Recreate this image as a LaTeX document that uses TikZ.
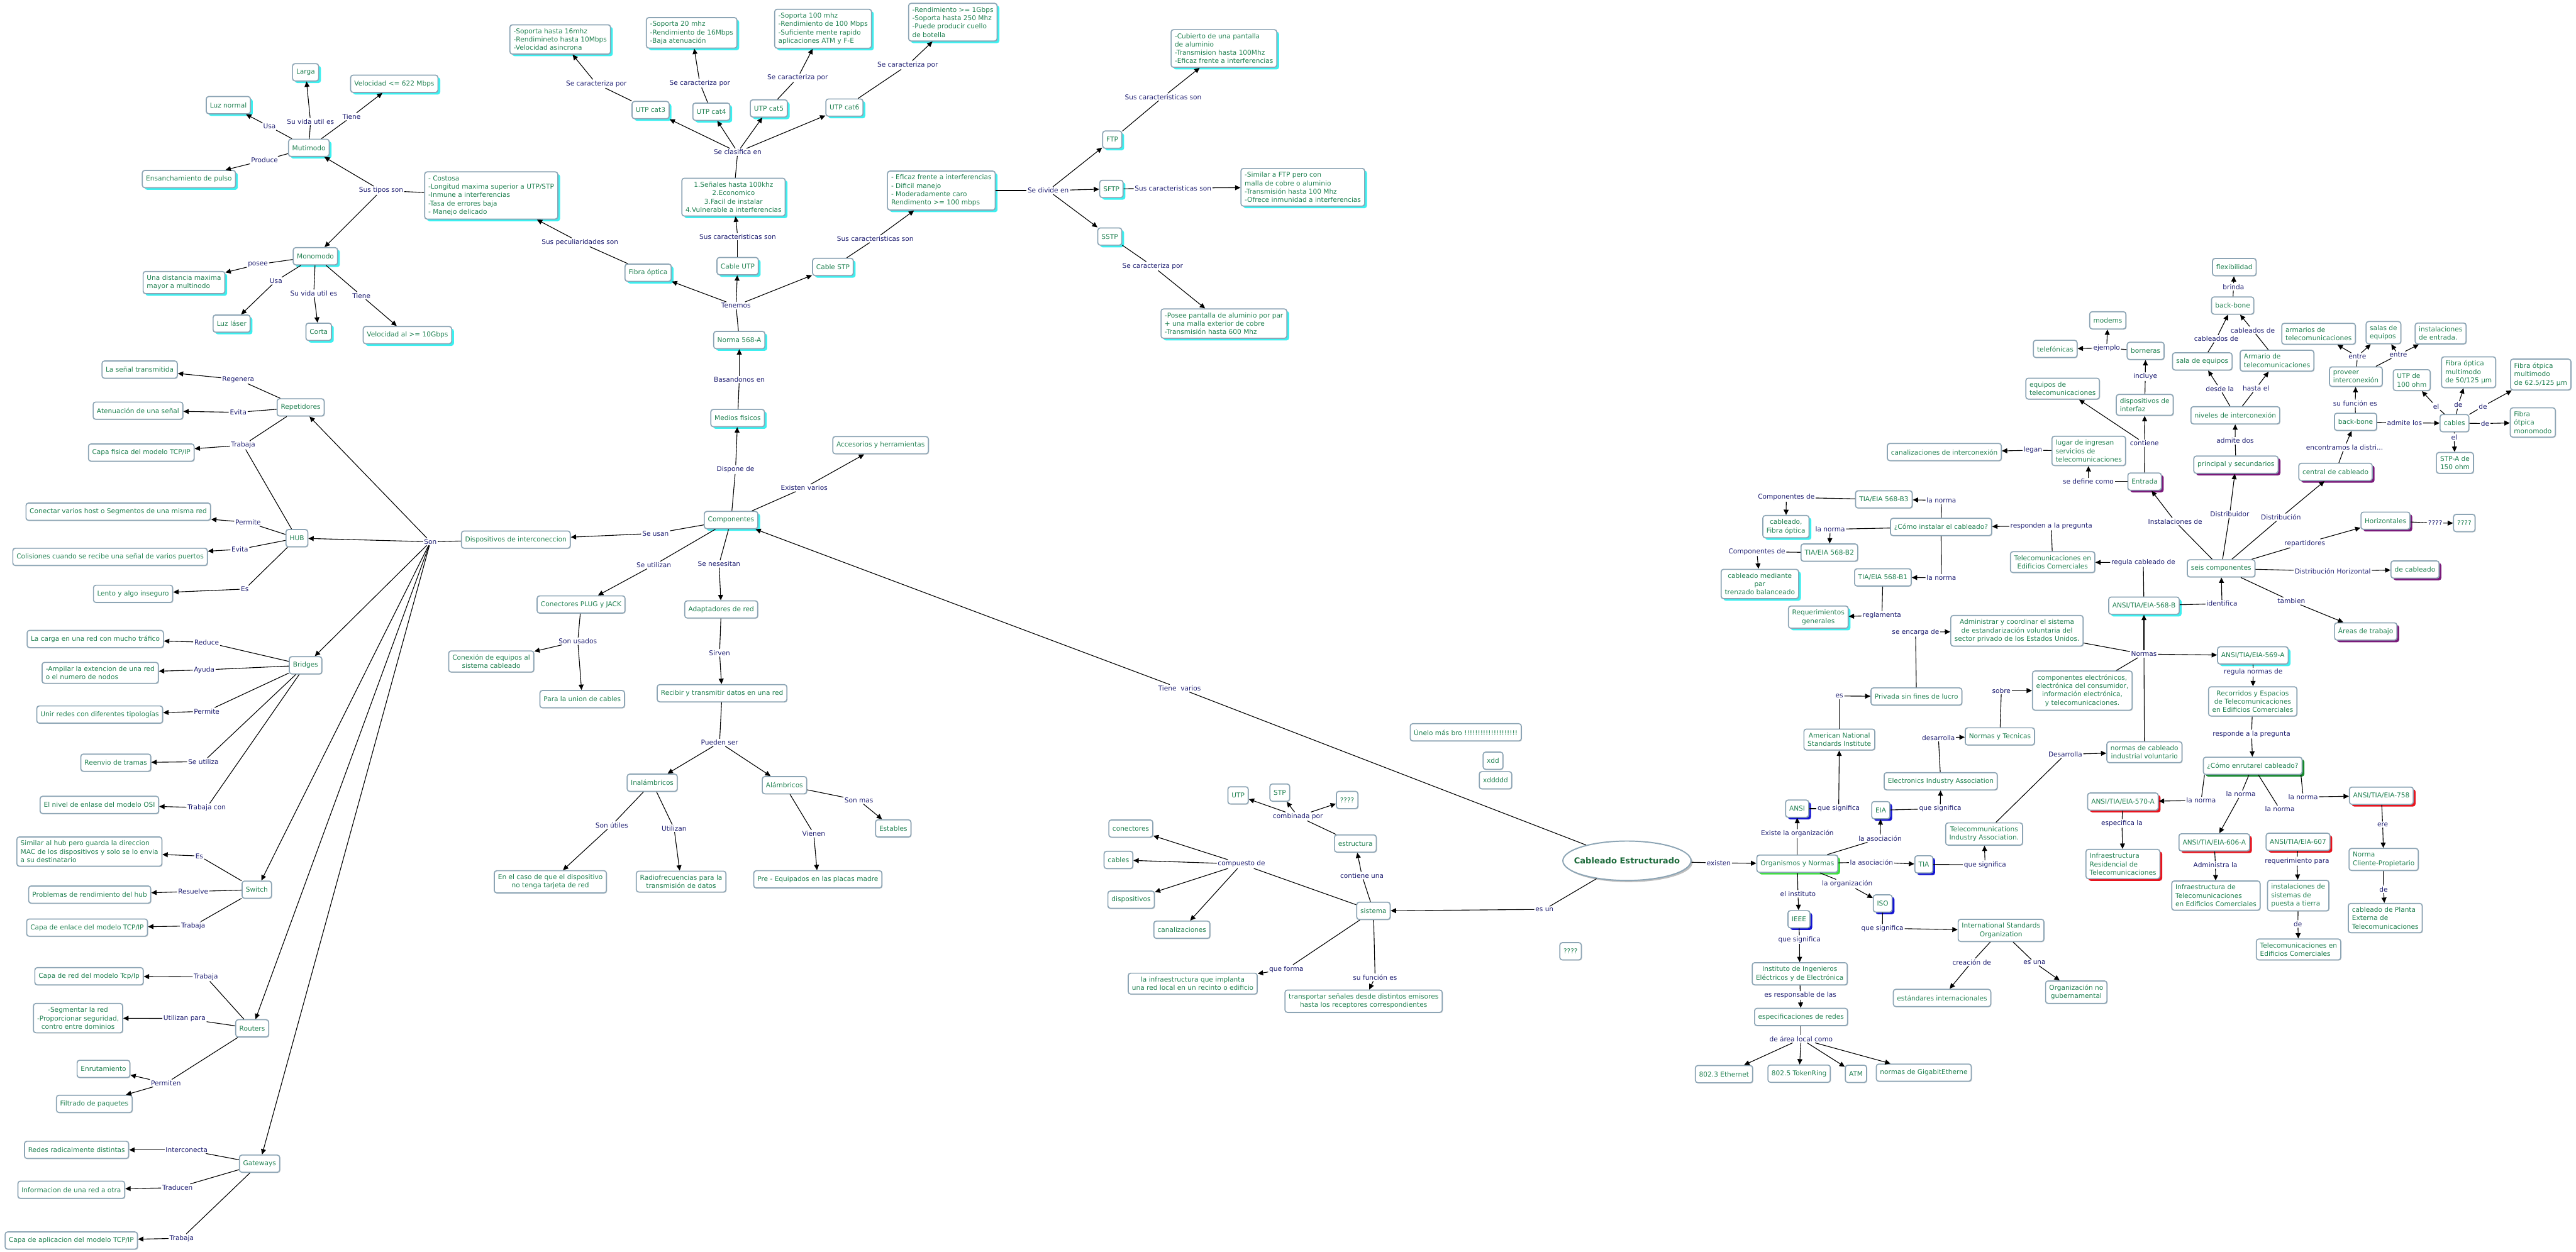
\documentclass[tikz,border=0pt]{standalone}
\usepackage{fontspec}
\setmainfont{DejaVu Sans}
\usepackage{xcolor}
\usetikzlibrary{arrows.meta,shapes.geometric,shadows}
\definecolor{CMText}{HTML}{1F8050}
\definecolor{CMNavy}{HTML}{1C1C70}
\definecolor{CMFrame}{HTML}{8DA5B5}
\definecolor{CMCyan}{HTML}{3CF0F0}
\definecolor{CMPurple}{HTML}{7A1A7A}
\definecolor{CMRed}{HTML}{E8141E}
\definecolor{CMBlue}{HTML}{1414D2}
\definecolor{CMLime}{HTML}{40E040}
\definecolor{CMForest}{HTML}{158A2D}
\definecolor{CMTitle}{HTML}{1E6B3C}

\begin{document}
\begin{tikzpicture}[x=2pt,y=-2pt,
  concept/.style={draw=CMFrame,line width=1.3pt,rounded corners=3pt,fill=white,text=CMText,
    font=\fontsize{8.1}{10.2}\selectfont,inner xsep=4.5pt,inner ysep=4.5pt,minimum height=21pt,align=center,
    general shadow={fill=black!15,shadow xshift=0.9pt,shadow yshift=-0.9pt}},
  conceptL/.style={concept,align=left},
  glowcyan/.style={general shadow={fill=CMCyan,shadow xshift=2.8pt,shadow yshift=-2.6pt}},
  glowpurple/.style={general shadow={fill=CMPurple,shadow xshift=2.8pt,shadow yshift=-2.6pt}},
  glowred/.style={general shadow={fill=CMRed,shadow xshift=2.8pt,shadow yshift=-2.6pt}},
  glowblue/.style={general shadow={fill=CMBlue,shadow xshift=2.8pt,shadow yshift=-2.6pt}},
  glowlime/.style={general shadow={fill=CMLime,shadow xshift=2.8pt,shadow yshift=-2.6pt}},
  glowforest/.style={general shadow={fill=CMForest,shadow xshift=2.8pt,shadow yshift=-2.6pt}},
  mainidea/.style={ellipse,draw=CMFrame,line width=1.5pt,fill=white,text=CMTitle,inner sep=0pt,
    minimum width=156pt,minimum height=48pt,font=\fontsize{10}{12}\selectfont\bfseries,
    general shadow={fill=black!25,shadow xshift=2pt,shadow yshift=-2pt}},
  linkword/.style={text=CMNavy,font=\fontsize{8.1}{10.2}\selectfont,inner sep=1.2pt},
  cmline/.style={line width=0.85pt},
  cmarrow/.style={cmline,-{Triangle[length=6.5pt,width=6pt]}}]
\useasboundingbox (0,0) rectangle (1568,762);

\node[conceptL,glowcyan] (c16) at (341,24) {-Soporta hasta 16mhz\\-Rendimineto hasta 10Mbps\\-Velocidad asincrona};
\node[conceptL,glowcyan] (c20) at (421,20) {-Soporta 20 mhz\\-Rendimiento de 16Mbps\\-Baja atenuación};
\node[conceptL,glowcyan] (c100) at (501,17.5) {-Soporta 100 mhz\\-Rendimiento de 100 Mbps\\-Suficiente mente rapido\\aplicaciones ATM y F-E};
\node[conceptL,glowcyan] (c1g) at (580,13.5) {-Rendimiento >= 1Gbps\\-Soporta hasta 250 Mhz\\-Puede producir cuello\\de botella};
\node[conceptL,glowcyan] (cubierto) at (745,29.5) {-Cubierto de una pantalla\\de aluminio\\-Transmision hasta 100Mhz\\-Eficaz frente a interferencias};
\node[concept,glowcyan] (cat3) at (396,67) {UTP cat3};
\node[concept,glowcyan] (cat4) at (433,68) {UTP cat4};
\node[concept,glowcyan] (cat5) at (468,66) {UTP cat5};
\node[concept,glowcyan] (cat6) at (514,65.5) {UTP cat6};
\node[linkword] (lCar3) at (363,51) {Se caracteriza por};
\node[linkword] (lCar4) at (426,50.7) {Se caracteriza por};
\node[linkword] (lCar5) at (485.5,47.4) {Se caracteriza por};
\node[linkword] (lCar6) at (552.5,39.6) {Se caracteriza por};
\node[linkword] (lClasifica) at (449,92.6) {Se clasifica en};
\node[concept,glowcyan] (utpchar) at (446.5,120) {1.Señales hasta 100khz\\2.Economico\\3.Facil de instalar\\4.Vulnerable a interferencias};
\node[conceptL,glowcyan] (stpchar) at (573,116) {- Eficaz frente a interferencias\\- Dificil manejo\\- Moderadamente caro\\Rendimento >= 100 mbps};
\node[linkword] (lDivide) at (638,116) {Se divide en};
\node[concept,glowcyan] (ftp) at (677,85) {FTP};
\node[concept,glowcyan] (sftp) at (676.5,115) {SFTP};
\node[concept,glowcyan] (sstp) at (675.5,144) {SSTP};
\node[linkword] (lFtp) at (708,59) {Sus caracteristicas son};
\node[linkword] (lSftp) at (714,114.5) {Sus caracteristicas son};
\node[linkword] (lSstp) at (701.6,162) {Se caracteriza por};
\node[conceptL,glowcyan] (similar) at (793,114) {-Similar a FTP pero con\\malla de cobre o aluminio\\-Transmisión hasta 100 Mhz\\-Ofrece inmunidad a interferencias};
\node[conceptL,glowcyan] (posee) at (745,197) {-Posee pantalla de aluminio por par\\+ una malla exterior de cobre\\-Transmisión hasta 600 Mhz};
\node[concept,glowcyan] (cableutp) at (449,162) {Cable UTP};
\node[concept,glowcyan] (cablestp) at (507,162.5) {Cable STP};
\node[concept,glowcyan] (fibra) at (394.5,166) {Fibra óptica};
\node[linkword] (lUtp) at (449,144) {Sus caracteristicas son};
\node[linkword] (lStp) at (532.8,145.4) {Sus caracteristicas son};
\node[linkword] (lTenemos) at (448,186) {Tenemos};
\node[concept,glowcyan] (norma) at (450,207) {Norma 568-A};
\node[linkword] (lBasandonos) at (450,231) {Basandonos en};
\node[concept,glowcyan] (medios) at (449,254.5) {Medios fisicos};
\node[linkword] (lPeculiar) at (353,147.5) {Sus peculiaridades son};
\node[conceptL,glowcyan] (costosa) at (299,119) {- Costosa\\-Longitud maxima superior a UTP/STP\\-Inmune a interferencias\\-Tasa de errores baja\\- Manejo delicado};
\node[linkword] (lTipos) at (232,116) {Sus tipos son};
\node[concept,glowcyan] (multi) at (188,90) {Mutimodo};
\node[concept,glowcyan] (mono) at (192,156) {Monomodo};
\node[concept,glowcyan] (larga) at (186,44) {Larga};
\node[concept,glowcyan] (vel622) at (240,51) {Velocidad <= 622 Mbps};
\node[concept,glowcyan] (luznormal) at (139,64) {Luz normal};
\node[concept,glowcyan] (ensanch) at (115,109) {Ensanchamiento de pulso};
\node[linkword] (lUsa1) at (164,77) {Usa};
\node[linkword] (lVida1) at (189,74) {Su vida util es};
\node[linkword] (lTiene1) at (214,71) {Tiene};
\node[linkword] (lProduce) at (161,97.5) {Produce};
\node[conceptL,glowcyan] (distancia) at (112,172) {Una distancia maxima\\mayor a multinodo};
\node[concept,glowcyan] (laser) at (141,197) {Luz láser};
\node[concept,glowcyan] (corta) at (194,202) {Corta};
\node[concept,glowcyan] (vel10) at (248,204) {Velocidad al >= 10Gbps};
\node[linkword] (lPosee) at (157,161) {posee};
\node[linkword] (lUsa2) at (168,171) {Usa};
\node[linkword] (lVida2) at (191,178.5) {Su vida util es};
\node[linkword] (lTiene2) at (220,180) {Tiene};

\node[concept,glowcyan] (componentes) at (445,316.6) {Componentes};
\node[concept] (accesorios) at (536,271) {Accesorios y herramientas};
\node[linkword] (lDispone) at (447.7,285.9) {Dispone de};
\node[linkword] (lExisten) at (489.5,297) {Existen varios};
\node[linkword] (lSeUsan) at (399,324.7) {Se usan};
\node[linkword] (lUtilizan) at (398,344) {Se utilizan};
\node[linkword] (lNesesitan) at (437.7,343.3) {Se nesesitan};
\node[concept] (dispint) at (314,328.5) {Dispositivos de interconeccion};
\node[concept] (plug) at (353.7,368) {Conectores PLUG y JACK};
\node[linkword] (lUsados) at (351.7,390.3) {Son usados};
\node[concept] (conexion) at (299,402.7) {Conexión de equipos al\\sistema cableado};
\node[concept] (union) at (354.4,425.6) {Para la union de cables};
\node[concept] (adapt) at (439,371) {Adaptadores de red};
\node[linkword] (lSirven) at (438,397.4) {Sirven};
\node[concept] (recibir) at (439.5,422) {Recibir y transmitir datos en una red};
\node[linkword] (lPueden) at (438,452) {Pueden ser};
\node[concept] (inal) at (397,476.5) {Inalámbricos};
\node[concept] (alam) at (477.5,478) {Alámbricos};
\node[linkword] (lUtiles) at (372.4,502.3) {Son útiles};
\node[linkword] (lUtilizan2) at (410.3,504.3) {Utilizan};
\node[linkword] (lVienen) at (495.3,507.5) {Vienen};
\node[linkword] (lSonMas) at (522.8,487.2) {Son mas};
\node[concept] (caso) at (335,536.8) {En el caso de que el dispositivo\\no tenga tarjeta de red};
\node[concept] (radio) at (414.6,536.7) {Radiofrecuencias para la\\transmisión de datos};
\node[concept] (preeq) at (497.8,535.3) {Pre - Equipados en las placas madre};
\node[concept] (estables) at (543.7,504.3) {Estables};
\node[linkword] (lTieneVarios) at (718,419) {Tiene\ \ varios};

\node[linkword] (lSon) at (262,329.8) {Son};
\node[concept] (rep) at (183,248) {Repetidores};
\node[concept] (senal) at (85,225) {La señal transmitida};
\node[concept] (atenua) at (84,250) {Atenuación de una señal};
\node[concept] (capafis) at (86,275.5) {Capa fisica del modelo TCP/IP};
\node[linkword] (lRegenera) at (145,231) {Regenera};
\node[linkword] (lEvita1) at (145,251) {Evita};
\node[linkword] (lTrab1) at (148,271) {Trabaja};
\node[concept] (hub) at (180.7,327.6) {HUB};
\node[concept] (conectar) at (72,311.5) {Conectar varios host o Segmentos de una misma red};
\node[concept] (colis) at (67,339) {Colisiones cuando se recibe una señal de varios puertos};
\node[concept] (lento) at (81,361.5) {Lento y algo inseguro};
\node[linkword] (lPermite1) at (151,318) {Permite};
\node[linkword] (lEvita2) at (146,334.4) {Evita};
\node[linkword] (lEs1) at (149,358.6) {Es};
\node[concept] (bridges) at (186,405) {Bridges};
\node[concept] (carga) at (58,389) {La carga en una red con mucho tráfico};
\node[conceptL] (ampliar) at (61,409.6) {-Ampilar la extencion de una red\\o el numero de nodos};
\node[concept] (unir) at (60.7,435) {Unir redes con diferentes tipologías};
\node[concept] (reenvio) at (70.5,464.3) {Reenvio de tramas};
\node[concept] (osi) at (60.5,490) {El nivel de enlase del modelo OSI};
\node[linkword] (lReduce) at (125.8,391) {Reduce};
\node[linkword] (lAyuda) at (124.3,407.8) {Ayuda};
\node[linkword] (lPermite2) at (125.8,433) {Permite};
\node[linkword] (lSeUtiliza) at (123.8,463.7) {Se utiliza};
\node[linkword] (lTrabCon) at (125.8,491.7) {Trabaja con};
\node[concept] (switch) at (156.3,541.6) {Switch};
\node[conceptL] (similarhub) at (54.4,518.4) {Similar al hub pero guarda la direccion\\MAC de los dispositivos y solo se lo envia\\a su destinatario};
\node[concept] (problemas) at (54.6,544.6) {Problemas de rendimiento del hub};
\node[concept] (enlace) at (53,564.7) {Capa de enlace del modelo TCP/IP};
\node[linkword] (lEs2) at (121.3,521.1) {Es};
\node[linkword] (lResuelve) at (117.6,542.7) {Resuelve};
\node[linkword] (lTrab2) at (117.6,563.7) {Trabaja};
\node[concept] (routers) at (153.5,626) {Routers};
\node[concept] (capared) at (54.2,594.3) {Capa de red del modelo Tcp/Ip};
\node[concept] (segmentar) at (47.5,619.8) {-Segmentar la red\\-Proporcionar seguridad,\\contro entre dominios};
\node[concept] (enrut) at (63,650.7) {Enrutamiento};
\node[concept] (filtrado) at (57.4,672) {Filtrado de paquetes};
\node[linkword] (lTrab3) at (125.3,594.7) {Trabaja};
\node[linkword] (lUtilizanPara) at (112.3,620) {Utilizan para};
\node[linkword] (lPermiten) at (101,659.4) {Permiten};
\node[concept] (gateways) at (158,708.4) {Gateways};
\node[concept] (redes) at (46.6,700) {Redes radicalmente distintas};
\node[concept] (info) at (43.4,724.3) {Informacion de una red a otra};
\node[concept] (capaapp) at (43.4,755.2) {Capa de aplicacion del modelo TCP/IP};
\node[linkword] (lInterconecta) at (113.6,700) {Interconecta};
\node[linkword] (lTraducen) at (108,723) {Traducen};
\node[linkword] (lTrab4) at (110.6,753.8) {Trabaja};

\node[mainidea] (cableado) at (990.3,524) {\makebox[0pt]{Cableado Estructurado}};
\node[linkword] (lEsUn) at (940.1,553.6) {es un};
\node[concept] (sistema) at (836,554.5) {sistema};
\node[linkword] (lCompuesto) at (755.7,526) {compuesto de};
\node[concept] (conectores) at (688.3,504.4) {conectores};
\node[concept] (cables) at (680.8,523.5) {cables};
\node[concept] (dispositivos) at (688.5,547.7) {dispositivos};
\node[concept] (canaliz) at (719.4,566) {canalizaciones};
\node[linkword] (lForma) at (783,590) {que forma};
\node[concept] (infra) at (726,598.8) {la infraestructura que implanta\\una red local en un recinto o edificio};
\node[linkword] (lFuncion) at (837,595) {su función es};
\node[concept] (transportar) at (830,609.5) {transportar señales desde distintos emisores\\hasta los receptores correspondientes};
\node[linkword] (lContiene) at (829,533) {contiene una};
\node[concept] (estructura) at (825,513.5) {estructura};
\node[linkword] (lCombinada) at (790,497) {combinada por};
\node[concept] (utp) at (753.6,484.2) {UTP};
\node[concept] (stp) at (779,482.5) {STP};
\node[concept] (qqA) at (820,487) {????};
\node[concept] (qqB) at (956,579.1) {????};
\node[concept] (unelo) at (892.2,445.8) {Únelo más bro !!!!!!!!!!!!!!!!!!!!};
\node[concept] (xdd) at (908.8,463.1) {xdd};
\node[concept] (xddddd) at (910.3,475) {xddddd};

\node[concept,glowlime] (org) at (1094,525.8) {Organismos y Normas};
\node[linkword] (lExisten2) at (1046.2,525.3) {existen};
\node[linkword] (lAsoc1) at (1139.2,524.8) {la asociación};
\node[concept,glowblue] (tia) at (1171,526.2) {TIA};
\node[linkword] (lSig1) at (1208.3,526.4) {que significa};
\node[concept] (tiaFull) at (1207.7,507.7) {Telecommunications\\Industry Association.};
\node[linkword] (lDes2) at (1257.1,459.2) {Desarrolla};
\node[concept] (normasvol) at (1305.3,457.9) {normas de cableado\\industrial voluntario};
\node[linkword] (lOrg2) at (1124.4,538.1) {la organización};
\node[concept,glowblue] (iso) at (1146,550) {ISO};
\node[linkword] (lSig2) at (1145.8,565.1) {que significa};
\node[concept] (isoFull) at (1218,566.4) {International Standards\\Organization};
\node[linkword] (lCreacion) at (1200.2,585.7) {creación de};
\node[concept] (estandares) at (1182.1,607.5) {estándares internacionales};
\node[linkword] (lEsUna) at (1238.4,586) {es una};
\node[concept] (ong) at (1263.8,604) {Organización no\\gubernamental};
\node[linkword] (lInst) at (1094.4,544.1) {el instituto};
\node[concept,glowblue] (ieee) at (1095,559.6) {IEEE};
\node[linkword] (lSig3) at (1095.3,572) {que significa};
\node[concept] (ieeeFull) at (1095.5,592.8) {Instituto de Ingenieros\\Eléctricos y de Electrónica};
\node[linkword] (lResp) at (1095.8,606) {es responsable de las};
\node[concept] (espec) at (1096.3,619.1) {especificaciones de redes};
\node[linkword] (lArea) at (1096.3,632.5) {de área local como};
\node[concept] (eth) at (1049.4,653.9) {802.3 Ethernet};
\node[concept] (token) at (1095.1,653.6) {802.5 TokenRing};
\node[concept] (atm) at (1129.7,653.7) {ATM};
\node[concept] (giga) at (1171,653) {normas de GigabitEtherne};
\node[linkword] (lExiste) at (1094,507.5) {Existe la organización};
\node[concept,glowblue] (ansi) at (1093.9,492.3) {ANSI};
\node[linkword] (lSig4) at (1119.2,492.3) {que significa};
\node[concept] (ansiFull) at (1119.6,450.2) {American National\\Standards Institute};
\node[linkword] (lEs3) at (1119.6,423.7) {es};
\node[concept] (privada) at (1166.5,424) {Privada sin fines de lucro};
\node[linkword] (lEncarga) at (1166,384.9) {se encarga de};
\node[concept] (admin) at (1227.7,384) {Administrar y coordinar el sistema\\de estandarización voluntaria del\\sector privado de los Estados Unidos.};
\node[linkword] (lNormas) at (1305,398.2) {Normas};
\node[concept,glowcyan] (n569) at (1371.3,399) {ANSI/TIA/EIA-569-A};
\node[concept,glowcyan] (n568) at (1305,368.7) {ANSI/TIA/EIA-568-B};
\node[linkword] (lAsoc2) at (1144.4,510.4) {la asociación};
\node[concept,glowblue] (eia) at (1144.8,493.2) {EIA};
\node[linkword] (lSig5) at (1181,492.3) {que significa};
\node[concept] (eiaFull) at (1181.3,475.6) {Electronics Industry Association};
\node[linkword] (lDes1) at (1179.9,449.1) {desarrolla};
\node[concept] (tecnicas) at (1217.3,448.3) {Normas y Tecnicas};
\node[linkword] (lSobre) at (1218.2,420.4) {sobre};
\node[concept] (compelec) at (1267.5,420.4) {componentes electrónicos,\\electrónica del consumidor,\\información electrónica,\\y telecomunicaciones.};

\node[linkword] (lIdentifica) at (1352.5,367.5) {identifica};
\node[concept] (seis) at (1352,346) {seis componentes};
\node[linkword] (lRegula) at (1304.6,342.5) {regula cableado de};
\node[concept] (telecomA) at (1249.4,342.2) {Telecomunicaciones en\\Edificios Comerciales};
\node[linkword] (lResponden) at (1248.6,320.2) {responden a la pregunta};
\node[concept] (instalar) at (1181.5,320.8) {¿Cómo instalar el cableado?};
\node[linkword] (lNorma3) at (1181.7,304.6) {la norma};
\node[concept] (b3) at (1146.7,304) {TIA/EIA 568-B3};
\node[linkword] (lNorma2) at (1114,322.2) {la norma};
\node[concept] (b2) at (1113.5,336.4) {TIA/EIA 568-B2};
\node[linkword] (lNorma1) at (1181.7,351.7) {la norma};
\node[concept] (b1) at (1146.1,351.5) {TIA/EIA 568-B1};
\node[linkword] (lComp3) at (1087.3,302.8) {Componentes de};
\node[concept,glowcyan] (fibraopt) at (1087.1,320.6) {cableado,\\Fibra óptica};
\node[linkword] (lComp2) at (1069.4,335.9) {Componentes de};
\node[concept,glowcyan] (partrenz) at (1071.2,355.5) {cableado mediante\\par\\trenzado balanceado};
\node[linkword] (lReglamenta) at (1145.5,374.7) {reglamenta};
\node[concept,glowcyan] (reqgen) at (1106.8,375.7) {Requerimientos\\generales};

\node[linkword] (lInstal) at (1324,317.5) {Instalaciones de};
\node[concept,glowpurple] (entrada) at (1305.4,293.2) {Entrada};
\node[linkword] (lDistribuidor) at (1357.2,313) {Distribuidor};
\node[concept,glowpurple] (principal) at (1361,282.9) {principal y secundarios};
\node[linkword] (lDistribucion) at (1388.4,314.9) {Distribución};
\node[concept,glowpurple] (central) at (1421.6,287.3) {central de cableado};
\node[linkword] (lRepart) at (1402.9,330.8) {repartidores};
\node[concept,glowpurple] (horiz) at (1452,317) {Horizontales};
\node[linkword] (lHor) at (1482.3,318.5) {????};
\node[concept] (qqC) at (1500,318.4) {????};
\node[linkword] (lDistHor) at (1419.9,347.8) {Distribución Horizontal};
\node[concept,glowpurple] (decab) at (1470,346.7) {de cableado};
\node[linkword] (lTambien) at (1394.7,365.9) {tambien};
\node[concept,glowpurple] (areas) at (1440,384.4) {Áreas de trabajo};
\node[linkword] (lDefine) at (1271.1,293.2) {se define como};
\node[conceptL] (lugar) at (1271.4,274.5) {lugar de ingresan\\servicios de\\telecomunicaciones};
\node[linkword] (lLegan) at (1237.4,274.1) {legan};
\node[concept] (canint) at (1183.5,275.2) {canalizaciones de interconexión};
\node[linkword] (lContiene2) at (1305.3,269.8) {contiene};
\node[conceptL] (interfaz) at (1305.5,246.5) {dispositivos de\\interfaz};
\node[conceptL] (equipos) at (1255.5,236.6) {equipos de\\telecomunicaciones};
\node[linkword] (lIncluye) at (1305.8,229.3) {incluye};
\node[concept] (borneras) at (1306,213.6) {borneras};
\node[linkword] (lEjemplo) at (1282.3,211.9) {ejemplo};
\node[concept] (telef) at (1251,212.4) {telefónicas};
\node[concept] (modems) at (1283,195) {modems};
\node[linkword] (lAdmite) at (1360.5,268.3) {admite dos};
\node[concept] (niveles) at (1360.6,252.8) {niveles de interconexión};
\node[linkword] (lDesde) at (1351.2,236.7) {desde la};
\node[concept] (salaeq) at (1340.5,220) {sala de equipos};
\node[linkword] (lHasta) at (1373.2,236.4) {hasta el};
\node[conceptL] (armario) at (1386,219.6) {Armario de\\telecomunicaciones};
\node[linkword] (lCabl1) at (1349,206.2) {cableados de};
\node[linkword] (lCabl2) at (1371.2,201) {cableados de};
\node[concept] (bbA) at (1359,186) {back-bone};
\node[linkword] (lBrinda) at (1359.5,174.6) {brinda};
\node[concept] (flex) at (1360,162.6) {flexibilidad};
\node[linkword] (lEncontramos) at (1427.1,272.3) {encontramos la distri...};
\node[concept] (bbB) at (1433.8,256.8) {back-bone};
\node[linkword] (lFuncion2) at (1433.6,245.6) {su función es};
\node[conceptL] (proveer) at (1434,229.3) {proveer\\interconexión};
\node[linkword] (lEntre1) at (1434.9,217) {entre};
\node[linkword] (lEntre2) at (1459.8,216) {entre};
\node[conceptL] (armarios) at (1411.3,203.2) {armarios de\\telecomunicaciones};
\node[conceptL] (salas) at (1450.8,202.5) {salas de\\equipos};
\node[conceptL] (instent) at (1485.6,203) {instalaciones\\de entrada.};
\node[linkword] (lAdmiteLos) at (1463.6,257.5) {admite los};
\node[concept] (cablesR) at (1494,257.6) {cables};
\node[linkword] (lEl1) at (1482.8,247.4) {el};
\node[linkword] (lDe1) at (1496.3,246.5) {de};
\node[linkword] (lDe2) at (1511.3,247.4) {de};
\node[linkword] (lDe3) at (1512.7,257.8) {de};
\node[linkword] (lEl2) at (1493.8,266.2) {el};
\node[conceptL] (utp100) at (1468,231.4) {UTP de\\100 ohm};
\node[conceptL] (f50) at (1502.6,226.6) {Fibra óptica\\multimodo\\de 50/125 µm};
\node[conceptL] (f62) at (1546.5,228) {Fibra ótpica\\multimodo\\de 62.5/125 µm};
\node[conceptL] (fmono) at (1541.7,257.2) {Fibra\\ótpica\\monomodo};
\node[concept] (stpa) at (1494.3,281.8) {STP-A de\\150 ohm};

\node[linkword] (lRegulaN) at (1371.5,409.2) {regula normas de};
\node[concept] (recorridos) at (1371.2,427) {Recorridos y Espacios\\de Telecomunicaciones\\en Edificios Comerciales};
\node[linkword] (lRespondeP) at (1370.5,446.9) {responde a la pregunta};
\node[concept,glowforest] (enrutar) at (1371.2,466.2) {¿Cómo enrutarel cableado?};
\node[linkword] (lN570) at (1339.8,487.3) {la norma};
\node[linkword] (lN606) at (1364,483.5) {la norma};
\node[linkword] (lN607) at (1387.7,492.6) {la norma};
\node[linkword] (lN758) at (1401.9,485.2) {la norma};
\node[concept,glowred] (n570) at (1292.2,488) {ANSI/TIA/EIA-570-A};
\node[concept,glowred] (n606) at (1347.8,512.8) {ANSI/TIA/EIA-606-A};
\node[concept,glowred] (n607) at (1398.8,512.5) {ANSI/TIA/EIA-607};
\node[concept,glowred] (n758) at (1449.5,484.4) {ANSI/TIA/EIA-758};
\node[linkword] (lEspecifica) at (1291.6,501.3) {especifica la};
\node[conceptL,glowred] (resid) at (1292.2,526) {Infraestructura\\Residencial de\\Telecomunicaciones};
\node[linkword] (lAdministra) at (1348.5,526.6) {Administra la};
\node[conceptL] (infracom) at (1348.8,545.2) {Infraestructura de\\Telecomunicaciones\\en Edificios Comerciales};
\node[linkword] (lReq) at (1398.2,524.3) {requerimiento para};
\node[conceptL] (tierra) at (1398.9,545.2) {instalaciones de\\sistemas de\\puesta a tierra};
\node[linkword] (lDeT) at (1398.7,562.5) {de};
\node[conceptL] (telecomB) at (1399.1,578) {Telecomunicaciones en\\Edificios Comerciales};
\node[linkword] (lEre) at (1450.3,502) {ere};
\node[conceptL] (cliente) at (1450.9,523.2) {Norma\\Cliente-Propietario};
\node[linkword] (lDeC) at (1450.8,541.4) {de};
\node[conceptL] (planta) at (1451.9,558.9) {cableado de Planta\\Externa de\\Telecomunicaciones};

\draw[cmline] (cat3) -- (lCar3); \draw[cmarrow] (lCar3) -- (c16);
\draw[cmline] (cat4) -- (lCar4); \draw[cmarrow] (lCar4) -- (c20);
\draw[cmline] (cat5) -- (lCar5); \draw[cmarrow] (lCar5) -- (c100);
\draw[cmline] (cat6) -- (lCar6); \draw[cmarrow] (lCar6) -- (c1g);
\draw[cmline] (utpchar) -- (lClasifica);
\draw[cmarrow] (lClasifica) -- (cat3); \draw[cmarrow] (lClasifica) -- (cat4);
\draw[cmarrow] (lClasifica) -- (cat5); \draw[cmarrow] (lClasifica) -- (cat6);
\draw[cmline] (stpchar) -- (lDivide);
\draw[cmarrow] (lDivide) -- (ftp); \draw[cmarrow] (lDivide) -- (sftp); \draw[cmarrow] (lDivide) -- (sstp);
\draw[cmline] (ftp) -- (lFtp); \draw[cmarrow] (lFtp) -- (cubierto);
\draw[cmline] (sftp) -- (lSftp); \draw[cmarrow] (lSftp) -- (similar);
\draw[cmline] (sstp) -- (lSstp); \draw[cmarrow] (lSstp) -- (posee);
\draw[cmline] (cableutp) -- (lUtp); \draw[cmarrow] (lUtp) -- (utpchar);
\draw[cmline] (cablestp) -- (lStp); \draw[cmarrow] (lStp) -- (stpchar);
\draw[cmline] (norma) -- (lTenemos);
\draw[cmarrow] (lTenemos) -- (fibra); \draw[cmarrow] (lTenemos) -- (cableutp); \draw[cmarrow] (lTenemos) -- (cablestp);
\draw[cmline] (medios) -- (lBasandonos); \draw[cmarrow] (lBasandonos) -- (norma);
\draw[cmline] (fibra) -- (lPeculiar); \draw[cmarrow] (lPeculiar) -- (costosa);
\draw[cmline] (costosa) -- (lTipos);
\draw[cmarrow] (lTipos) -- (multi); \draw[cmarrow] (lTipos) -- (mono);
\draw[cmline] (multi) -- (lUsa1); \draw[cmarrow] (lUsa1) -- (luznormal);
\draw[cmline] (multi) -- (lVida1); \draw[cmarrow] (lVida1) -- (larga);
\draw[cmline] (multi) -- (lTiene1); \draw[cmarrow] (lTiene1) -- (vel622);
\draw[cmline] (multi) -- (lProduce); \draw[cmarrow] (lProduce) -- (ensanch);
\draw[cmline] (mono) -- (lPosee); \draw[cmarrow] (lPosee) -- (distancia);
\draw[cmline] (mono) -- (lUsa2); \draw[cmarrow] (lUsa2) -- (laser);
\draw[cmline] (mono) -- (lVida2); \draw[cmarrow] (lVida2) -- (corta);
\draw[cmline] (mono) -- (lTiene2); \draw[cmarrow] (lTiene2) -- (vel10);

\draw[cmline] (componentes) -- (lDispone); \draw[cmarrow] (lDispone) -- (medios);
\draw[cmline] (componentes) -- (lExisten); \draw[cmarrow] (lExisten) -- (accesorios);
\draw[cmline] (componentes) -- (lSeUsan); \draw[cmarrow] (lSeUsan) -- (dispint);
\draw[cmline] (componentes) -- (lUtilizan); \draw[cmarrow] (lUtilizan) -- (plug);
\draw[cmline] (componentes) -- (lNesesitan); \draw[cmarrow] (lNesesitan) -- (adapt);
\draw[cmline] (plug) -- (lUsados);
\draw[cmarrow] (lUsados) -- (conexion); \draw[cmarrow] (lUsados) -- (union);
\draw[cmline] (adapt) -- (lSirven); \draw[cmarrow] (lSirven) -- (recibir);
\draw[cmline] (recibir) -- (lPueden);
\draw[cmarrow] (lPueden) -- (inal); \draw[cmarrow] (lPueden) -- (alam);
\draw[cmline] (inal) -- (lUtiles); \draw[cmarrow] (lUtiles) -- (caso);
\draw[cmline] (inal) -- (lUtilizan2); \draw[cmarrow] (lUtilizan2) -- (radio);
\draw[cmline] (alam) -- (lVienen); \draw[cmarrow] (lVienen) -- (preeq);
\draw[cmline] (alam) -- (lSonMas); \draw[cmarrow] (lSonMas) -- (estables);
\draw[cmline] (cableado) -- (lTieneVarios); \draw[cmarrow] (lTieneVarios) -- (componentes);

\draw[cmline] (dispint) -- (lSon);
\draw[cmarrow] (lSon) -- (rep); \draw[cmarrow] (lSon) -- (hub); \draw[cmarrow] (lSon) -- (bridges);
\draw[cmarrow] (lSon) -- (switch); \draw[cmarrow] (lSon) -- (routers); \draw[cmarrow] (lSon) -- (gateways);
\draw[cmline] (rep) -- (lRegenera); \draw[cmarrow] (lRegenera) -- (senal);
\draw[cmline] (rep) -- (lEvita1); \draw[cmarrow] (lEvita1) -- (atenua);
\draw[cmline] (rep) -- (lTrab1); \draw[cmline] (hub) -- (lTrab1); \draw[cmarrow] (lTrab1) -- (capafis);
\draw[cmline] (hub) -- (lPermite1); \draw[cmarrow] (lPermite1) -- (conectar);
\draw[cmline] (hub) -- (lEvita2); \draw[cmarrow] (lEvita2) -- (colis);
\draw[cmline] (hub) -- (lEs1); \draw[cmarrow] (lEs1) -- (lento);
\draw[cmline] (bridges) -- (lReduce); \draw[cmarrow] (lReduce) -- (carga);
\draw[cmline] (bridges) -- (lAyuda); \draw[cmarrow] (lAyuda) -- (ampliar);
\draw[cmline] (bridges) -- (lPermite2); \draw[cmarrow] (lPermite2) -- (unir);
\draw[cmline] (bridges) -- (lSeUtiliza); \draw[cmarrow] (lSeUtiliza) -- (reenvio);
\draw[cmline] (bridges) -- (lTrabCon); \draw[cmarrow] (lTrabCon) -- (osi);
\draw[cmline] (switch) -- (lEs2); \draw[cmarrow] (lEs2) -- (similarhub);
\draw[cmline] (switch) -- (lResuelve); \draw[cmarrow] (lResuelve) -- (problemas);
\draw[cmline] (switch) -- (lTrab2); \draw[cmarrow] (lTrab2) -- (enlace);
\draw[cmline] (routers) -- (lTrab3); \draw[cmarrow] (lTrab3) -- (capared);
\draw[cmline] (routers) -- (lUtilizanPara); \draw[cmarrow] (lUtilizanPara) -- (segmentar);
\draw[cmline] (routers) -- (lPermiten);
\draw[cmarrow] (lPermiten) -- (enrut); \draw[cmarrow] (lPermiten) -- (filtrado);
\draw[cmline] (gateways) -- (lInterconecta); \draw[cmarrow] (lInterconecta) -- (redes);
\draw[cmline] (gateways) -- (lTraducen); \draw[cmarrow] (lTraducen) -- (info);
\draw[cmline] (gateways) -- (lTrab4); \draw[cmarrow] (lTrab4) -- (capaapp);

\draw[cmline] (cableado) -- (lEsUn); \draw[cmarrow] (lEsUn) -- (sistema);
\draw[cmline] (sistema) -- (lCompuesto);
\draw[cmarrow] (lCompuesto) -- (conectores); \draw[cmarrow] (lCompuesto) -- (cables);
\draw[cmarrow] (lCompuesto) -- (dispositivos); \draw[cmarrow] (lCompuesto) -- (canaliz);
\draw[cmline] (sistema) -- (lForma); \draw[cmarrow] (lForma) -- (infra);
\draw[cmline] (sistema) -- (lFuncion); \draw[cmarrow] (lFuncion) -- (transportar);
\draw[cmline] (sistema) -- (lContiene); \draw[cmarrow] (lContiene) -- (estructura);
\draw[cmline] (estructura) -- (lCombinada);
\draw[cmarrow] (lCombinada) -- (utp); \draw[cmarrow] (lCombinada) -- (stp); \draw[cmarrow] (lCombinada) -- (qqA);

\draw[cmline] (cableado) -- (lExisten2); \draw[cmarrow] (lExisten2) -- (org);
\draw[cmline] (org) -- (lAsoc1); \draw[cmarrow] (lAsoc1) -- (tia);
\draw[cmline] (tia) -- (lSig1); \draw[cmarrow] (lSig1) -- (tiaFull);
\draw[cmline] (tiaFull) -- (lDes2); \draw[cmarrow] (lDes2) -- (normasvol);
\draw[cmline] (org) -- (lOrg2); \draw[cmarrow] (lOrg2) -- (iso);
\draw[cmline] (iso) -- (lSig2); \draw[cmarrow] (lSig2) -- (isoFull);
\draw[cmline] (isoFull) -- (lCreacion); \draw[cmarrow] (lCreacion) -- (estandares);
\draw[cmline] (isoFull) -- (lEsUna); \draw[cmarrow] (lEsUna) -- (ong);
\draw[cmline] (org) -- (lInst); \draw[cmarrow] (lInst) -- (ieee);
\draw[cmline] (ieee) -- (lSig3); \draw[cmarrow] (lSig3) -- (ieeeFull);
\draw[cmline] (ieeeFull) -- (lResp); \draw[cmarrow] (lResp) -- (espec);
\draw[cmline] (espec) -- (lArea);
\draw[cmarrow] (lArea) -- (eth); \draw[cmarrow] (lArea) -- (token);
\draw[cmarrow] (lArea) -- (atm); \draw[cmarrow] (lArea) -- (giga);
\draw[cmline] (org) -- (lExiste); \draw[cmarrow] (lExiste) -- (ansi);
\draw[cmline] (ansi) -- (lSig4); \draw[cmarrow] (lSig4) -- (ansiFull);
\draw[cmline] (ansiFull) -- (lEs3); \draw[cmarrow] (lEs3) -- (privada);
\draw[cmline] (privada) -- (lEncarga); \draw[cmarrow] (lEncarga) -- (admin);
\draw[cmline] (admin) -- (lNormas); \draw[cmline] (compelec) -- (lNormas); \draw[cmline] (normasvol) -- (lNormas);
\draw[cmarrow] (lNormas) -- (n569); \draw[cmarrow] (lNormas) -- (n568);
\draw[cmline] (org) -- (lAsoc2); \draw[cmarrow] (lAsoc2) -- (eia);
\draw[cmline] (eia) -- (lSig5); \draw[cmarrow] (lSig5) -- (eiaFull);
\draw[cmline] (eiaFull) -- (lDes1); \draw[cmarrow] (lDes1) -- (tecnicas);
\draw[cmline] (tecnicas) -- (lSobre); \draw[cmarrow] (lSobre) -- (compelec);

\draw[cmline] (n568) -- (lIdentifica); \draw[cmarrow] (lIdentifica) -- (seis);
\draw[cmline] (n568) -- (lRegula); \draw[cmarrow] (lRegula) -- (telecomA);
\draw[cmline] (telecomA) -- (lResponden); \draw[cmarrow] (lResponden) -- (instalar);
\draw[cmline] (instalar) -- (lNorma3); \draw[cmarrow] (lNorma3) -- (b3);
\draw[cmline] (instalar) -- (lNorma2); \draw[cmarrow] (lNorma2) -- (b2);
\draw[cmline] (instalar) -- (lNorma1); \draw[cmarrow] (lNorma1) -- (b1);
\draw[cmline] (b3) -- (lComp3); \draw[cmarrow] (lComp3) -- (fibraopt);
\draw[cmline] (b2) -- (lComp2); \draw[cmarrow] (lComp2) -- (partrenz);
\draw[cmline] (b1) -- (lReglamenta); \draw[cmarrow] (lReglamenta) -- (reqgen);

\draw[cmline] (seis) -- (lInstal); \draw[cmarrow] (lInstal) -- (entrada);
\draw[cmline] (seis) -- (lDistribuidor); \draw[cmarrow] (lDistribuidor) -- (principal);
\draw[cmline] (seis) -- (lDistribucion); \draw[cmarrow] (lDistribucion) -- (central);
\draw[cmline] (seis) -- (lRepart); \draw[cmarrow] (lRepart) -- (horiz);
\draw[cmline] (horiz) -- (lHor); \draw[cmarrow] (lHor) -- (qqC);
\draw[cmline] (seis) -- (lDistHor); \draw[cmarrow] (lDistHor) -- (decab);
\draw[cmline] (seis) -- (lTambien); \draw[cmarrow] (lTambien) -- (areas);
\draw[cmline] (entrada) -- (lDefine); \draw[cmarrow] (lDefine) -- (lugar);
\draw[cmline] (lugar) -- (lLegan); \draw[cmarrow] (lLegan) -- (canint);
\draw[cmline] (entrada) -- (lContiene2);
\draw[cmarrow] (lContiene2) -- (interfaz); \draw[cmarrow] (lContiene2) -- (equipos);
\draw[cmline] (interfaz) -- (lIncluye); \draw[cmarrow] (lIncluye) -- (borneras);
\draw[cmline] (borneras) -- (lEjemplo);
\draw[cmarrow] (lEjemplo) -- (telef); \draw[cmarrow] (lEjemplo) -- (modems);
\draw[cmline] (principal) -- (lAdmite); \draw[cmarrow] (lAdmite) -- (niveles);
\draw[cmline] (niveles) -- (lDesde); \draw[cmarrow] (lDesde) -- (salaeq);
\draw[cmline] (niveles) -- (lHasta); \draw[cmarrow] (lHasta) -- (armario);
\draw[cmline] (salaeq) -- (lCabl1); \draw[cmarrow] (lCabl1) -- (bbA);
\draw[cmline] (armario) -- (lCabl2); \draw[cmarrow] (lCabl2) -- (bbA);
\draw[cmline] (bbA) -- (lBrinda); \draw[cmarrow] (lBrinda) -- (flex);
\draw[cmline] (central) -- (lEncontramos); \draw[cmarrow] (lEncontramos) -- (bbB);
\draw[cmline] (bbB) -- (lFuncion2); \draw[cmarrow] (lFuncion2) -- (proveer);
\draw[cmline] (proveer) -- (lEntre1);
\draw[cmarrow] (lEntre1) -- (armarios); \draw[cmarrow] (lEntre1) -- (salas);
\draw[cmline] (proveer) -- (lEntre2);
\draw[cmarrow] (lEntre2) -- (salas); \draw[cmarrow] (lEntre2) -- (instent);
\draw[cmline] (bbB) -- (lAdmiteLos); \draw[cmarrow] (lAdmiteLos) -- (cablesR);
\draw[cmline] (cablesR) -- (lEl1); \draw[cmarrow] (lEl1) -- (utp100);
\draw[cmline] (cablesR) -- (lDe1); \draw[cmarrow] (lDe1) -- (f50);
\draw[cmline] (cablesR) -- (lDe2); \draw[cmarrow] (lDe2) -- (f62);
\draw[cmline] (cablesR) -- (lDe3); \draw[cmarrow] (lDe3) -- (fmono);
\draw[cmline] (cablesR) -- (lEl2); \draw[cmarrow] (lEl2) -- (stpa);

\draw[cmline] (n569) -- (lRegulaN); \draw[cmarrow] (lRegulaN) -- (recorridos);
\draw[cmline] (recorridos) -- (lRespondeP); \draw[cmarrow] (lRespondeP) -- (enrutar);
\draw[cmline] ([xshift=2pt]enrutar.south west) -- (lN570); \draw[cmarrow] (lN570) -- (n570);
\draw[cmline] (enrutar) -- (lN606); \draw[cmarrow] (lN606) -- (n606);
\draw[cmline] (enrutar) -- (lN607);
\draw[cmline] ([xshift=-2pt]enrutar.south east) -- (lN758); \draw[cmarrow] (lN758) -- (n758);
\draw[cmline] (n570) -- (lEspecifica); \draw[cmarrow] (lEspecifica) -- (resid);
\draw[cmline] (n606) -- (lAdministra); \draw[cmarrow] (lAdministra) -- (infracom);
\draw[cmline] (n607) -- (lReq); \draw[cmarrow] (lReq) -- (tierra);
\draw[cmline] (tierra) -- (lDeT); \draw[cmarrow] (lDeT) -- (telecomB);
\draw[cmline] (n758) -- (lEre); \draw[cmarrow] (lEre) -- (cliente);
\draw[cmline] (cliente) -- (lDeC); \draw[cmarrow] (lDeC) -- (planta);
\end{tikzpicture}
\end{document}
